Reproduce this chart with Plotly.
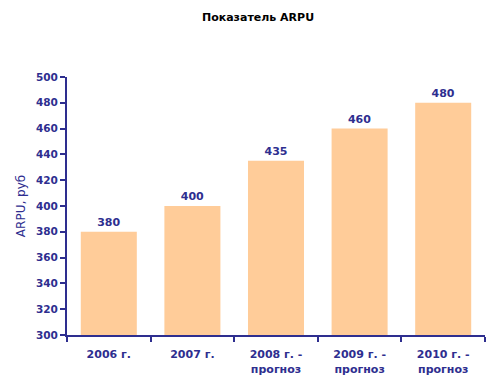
import plotly.graph_objects as go

categories = ["2006 г.", "2007 г.", "2008 г. -<br>прогноз", "2009 г. -<br>прогноз", "2010 г. -<br>прогноз"]
values = [380, 400, 435, 460, 480]
y_ticks = [300, 320, 340, 360, 380, 400, 420, 440, 460, 480, 500]

navy = "#2E2E8F"
fig = go.Figure(go.Bar(
    x=categories, y=values,
    marker=dict(color="#FFCC99", line=dict(width=0)),
    text=[str(v) for v in values], textposition="outside",
    textfont=dict(family="DejaVu Sans", size=11, color=navy, weight="bold"),
    cliponaxis=False,
))
fig.update_layout(
    width=500, height=390,
    margin=dict(l=59, r=23, t=69, b=63),
    paper_bgcolor="white", plot_bgcolor="white",
    bargap=0.33,
    showlegend=False,
    title=dict(text="<b>Показатель ARPU</b>", x=0.5, xanchor="center", y=0.977, yanchor="middle",
               font=dict(family="DejaVu Sans", size=11, color="black")),
    font=dict(family="DejaVu Sans", color=navy),
)
fig.update_xaxes(
    showline=True, linecolor=navy, linewidth=2,
    ticks="outside", tickson="boundaries", ticklen=5, tickcolor=navy, tickwidth=2,
    tickfont=dict(family="DejaVu Sans", size=11, color=navy, weight="bold"),
    ticklabelstandoff=8, automargin=False,
    showgrid=False,
)
fig.update_yaxes(
    range=[300, 500], tickvals=y_ticks,
    showline=True, linecolor=navy, linewidth=2,
    ticks="outside", ticklen=5, tickcolor=navy, tickwidth=2,
    tickfont=dict(family="DejaVu Sans", size=10.5, color=navy, weight="bold"),
    showgrid=False, zeroline=False, automargin=False,
    title=dict(text="ARPU, руб", font=dict(family="DejaVu Sans", size=12, color=navy), standoff=8),
)
fig.write_html("out.html")
